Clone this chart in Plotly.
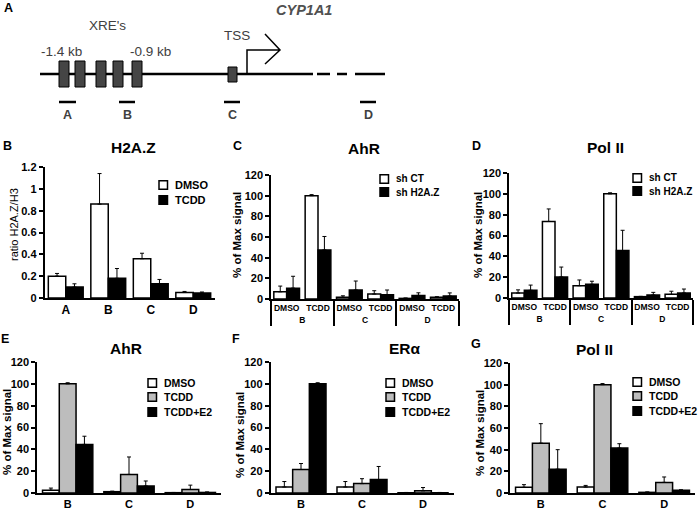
import plotly.graph_objects as go

W, H = 700, 509
FONT = "Liberation Sans, Arial, sans-serif"


def px(x):
    return x / W


def py(y):
    return 1 - y / H


# ---------------- data ----------------
# Panel A: promoter schematic (schematic units along the CYP1A1 promoter)
xre_centers = [64, 80, 101, 118, 137]
proximal_box_center = 232.5
promoter_span = [40, 313]
gap_dashes = [[317, 330], [337, 347], [355, 385]]
amplicon_names = ["A", "B", "C", "D"]
amplicon_spans = [[59, 76], [119, 135], [224, 240], [360, 376]]
tss_pos = 247

# Panel B: H2A.Z (ratio H2A.Z/H3)
h2az_regions = ["A", "B", "C", "D"]
h2az_dmso = [0.20, 0.86, 0.36, 0.05]
h2az_dmso_err = [0.025, 0.28, 0.05, 0.01]
h2az_tcdd = [0.10, 0.18, 0.13, 0.045]
h2az_tcdd_err = [0.03, 0.09, 0.04, 0.01]

# Panels C, D: shRNA experiments (% of max signal)
sh_regions = ["B", "B", "C", "C", "D", "D"]
sh_treatments = ["DMSO", "TCDD", "DMSO", "TCDD", "DMSO", "TCDD"]
sh_names = ["sh CT", "sh H2A.Z"]
ahr_shct = [7, 100, 1.6, 4.8, 0.6, 1.6]
ahr_shct_err = [5.5, 1, 1.5, 3.2, 0.4, 0.6]
ahr_shh2az = [10.5, 47.5, 8.7, 4.2, 3.5, 2.9]
ahr_shh2az_err = [11.5, 13, 8.7, 4.5, 2.5, 3]
pol_shct = [4.8, 73.5, 11.8, 100, 1.3, 3.5]
pol_shct_err = [3, 12, 5.5, 1, 0.3, 3]
pol_shh2az = [7.4, 20.2, 13.1, 45.5, 2.9, 4.8]
pol_shh2az_err = [5, 9.5, 3, 19.5, 2.5, 3.8]

# Panels E, F, G: E2 experiments (% of max signal)
e2_regions = ["B", "C", "D"]
e2_names = ["DMSO", "TCDD", "TCDD+E2"]
ahrE_dmso = [2.5, 1.2, 0.3]
ahrE_dmso_err = [2, 0.5, 0.2]
ahrE_tcdd = [100, 17, 3.2]
ahrE_tcdd_err = [1, 16, 4]
ahrE_e2 = [44.5, 6.4, 0.5]
ahrE_e2_err = [7.5, 4.6, 0.5]
era_dmso = [5.5, 5.5, 0.3]
era_dmso_err = [5, 5, 0.2]
era_tcdd = [21.5, 8.6, 2]
era_tcdd_err = [5.5, 4.5, 3]
era_e2 = [100, 12.3, 0.3]
era_e2_err = [1, 12, 0.2]
polG_dmso = [5.2, 5.5, 0.6]
polG_dmso_err = [2.5, 1.5, 0.4]
polG_tcdd = [46, 100, 9.8]
polG_tcdd_err = [18, 1, 5]
polG_e2 = [22, 41.5, 2.5]
polG_e2_err = [18, 4, 0.5]

WHITE, GRAY, BLACK = "white", "#bdbdbd", "black"

fig = go.Figure()


def bar(x, y, err, color, ax):
    fig.add_trace(go.Bar(
        x=x, y=y, xaxis="x" + ax, yaxis="y" + ax, showlegend=False,
        marker=dict(color=color, line=dict(color="black", width=1.5)),
        error_y=dict(type="data", array=err, arrayminus=[0] * len(err),
                     symmetric=False, color="black", thickness=1, width=2),
    ))


# Panel B
bar(h2az_regions, h2az_dmso, h2az_dmso_err, WHITE, "2")
bar(h2az_regions, h2az_tcdd, h2az_tcdd_err, BLACK, "2")
# Panel C
bar([sh_regions, sh_treatments], ahr_shct, ahr_shct_err, WHITE, "3")
bar([sh_regions, sh_treatments], ahr_shh2az, ahr_shh2az_err, BLACK, "3")
# Panel D
bar([sh_regions, sh_treatments], pol_shct, pol_shct_err, WHITE, "4")
bar([sh_regions, sh_treatments], pol_shh2az, pol_shh2az_err, BLACK, "4")
# Panel E
bar(e2_regions, ahrE_dmso, ahrE_dmso_err, WHITE, "5")
bar(e2_regions, ahrE_tcdd, ahrE_tcdd_err, GRAY, "5")
bar(e2_regions, ahrE_e2, ahrE_e2_err, BLACK, "5")
# Panel F
bar(e2_regions, era_dmso, era_dmso_err, WHITE, "6")
bar(e2_regions, era_tcdd, era_tcdd_err, GRAY, "6")
bar(e2_regions, era_e2, era_e2_err, BLACK, "6")
# Panel G
bar(e2_regions, polG_dmso, polG_dmso_err, WHITE, "7")
bar(e2_regions, polG_tcdd, polG_tcdd_err, GRAY, "7")
bar(e2_regions, polG_e2, polG_e2_err, BLACK, "7")

# invisible trace to create the schematic axis
fig.add_trace(go.Scatter(x=[promoter_span[0]], y=[0], xaxis="x", yaxis="y",
                         mode="markers", marker=dict(opacity=0), showlegend=False,
                         hoverinfo="skip"))

layout = dict(
    width=W, height=H, margin=dict(l=0, r=0, t=0, b=0),
    paper_bgcolor="white", plot_bgcolor="white",
    barmode="group", bargap=0.18, bargroupgap=0,
    font=dict(family=FONT, color="black"),
    showlegend=False,
    xaxis=dict(domain=[0, 1], range=[0, 700], visible=False, anchor="y"),
    yaxis=dict(domain=[py(125), 1], range=[125, 0], visible=False, anchor="x"),
)

# panel axis geometry: (xleft, xright, ytop, ybottom) in pixels
geom = {
    "2": (44.5, 214.5, 167, 298, [0, 1.2], 0.2),
    "3": (271, 459, 175, 299, [0, 120], 20),
    "4": (509, 693, 173, 298, [0, 120], 20),
    "5": (37, 221, 362, 493, [0, 120], 20),
    "6": (270.5, 453.5, 362, 493, [0, 120], 20),
    "7": (510, 695, 363, 493, [0, 120], 20),
}
for k, (xl, xr, yt, yb, rng, dt) in geom.items():
    xa = dict(domain=[px(xl), px(xr)], anchor="y" + k, showline=True,
              linecolor="black", linewidth=2, ticks="", showgrid=False,
              zeroline=False, tickfont=dict(size=12 if k == "2" else 11, weight="bold"),
              automargin=False, tickangle=0)
    if k in ("3", "4"):
        xa.update(type="multicategory", showdividers=True, dividercolor="black",
                  dividerwidth=1.5, tickfont=dict(size=8.5, weight="bold"))
    ya = dict(domain=[py(yb), py(yt)], anchor="x" + k, range=rng, dtick=dt,
              showline=True, linecolor="black", linewidth=1.5, ticks="outside",
              ticklen=4, tickwidth=1.5, tickcolor="black", showgrid=False,
              zeroline=False, tickfont=dict(size=11, weight="bold"), automargin=False)
    layout["xaxis" + k] = xa
    layout["yaxis" + k] = ya

shapes = []
annotations = []

# ---------- Panel A schematic ----------
LINE_Y = 74
shapes.append(dict(type="line", xref="x", yref="y", x0=promoter_span[0], x1=promoter_span[1],
                   y0=LINE_Y, y1=LINE_Y, line=dict(color="black", width=2.5)))
for a, b in gap_dashes:
    shapes.append(dict(type="line", xref="x", yref="y", x0=a, x1=b, y0=LINE_Y, y1=LINE_Y,
                       line=dict(color="black", width=2.5)))
for c in xre_centers:
    shapes.append(dict(type="rect", xref="x", yref="y", x0=c - 5, x1=c + 5, y0=61, y1=87,
                       fillcolor="#454545", line=dict(color="black", width=1)))
shapes.append(dict(type="rect", xref="x", yref="y", x0=proximal_box_center - 4.5,
                   x1=proximal_box_center + 4.5, y0=67, y1=82,
                   fillcolor="#454545", line=dict(color="black", width=1)))
# TSS arrow
shapes.append(dict(type="path", xref="x", yref="y",
                   path=f"M{tss_pos},{LINE_Y} L{tss_pos},50 L{tss_pos + 33},50 "
                        f"M{tss_pos + 18},34 L{tss_pos + 33},50 L{tss_pos + 18},64",
                   line=dict(color="black", width=1.5)))
for name, (a, b) in zip(amplicon_names, amplicon_spans):
    shapes.append(dict(type="line", xref="x", yref="y", x0=a, x1=b, y0=102, y1=102,
                       line=dict(color="black", width=2.5)))
    annotations.append(dict(x=(a + b) / 2, y=115, xref="x", yref="y", text=name,
                            showarrow=False, font=dict(size=12.5, weight="bold", color="#404040")))

diag_text = [("XRE's", 107, 25), ("-1.4 kb", 61, 51), ("-0.9 kb", 150, 51), ("TSS", 237, 35)]
for t, x, y in diag_text:
    annotations.append(dict(x=x, y=y, xref="x", yref="y", text=t, showarrow=False,
                            font=dict(size=13.5, color="#404040")))
annotations.append(dict(x=304, y=10, xref="x", yref="y", text="<i>CYP1A1</i>", showarrow=False,
                        font=dict(size=14.5, weight="bold", color="#505050")))


def ann(text, x, y, size, bold=True, angle=0, anchor="center"):
    d = dict(x=px(x), y=py(y), xref="paper", yref="paper", text=text, showarrow=False,
             xanchor=anchor, yanchor="middle", textangle=angle,
             font=dict(size=size, weight="bold" if bold else "normal", color="black"))
    annotations.append(d)


# panel letters
for t, x, y in [("A", 8, 8), ("B", 7, 146), ("C", 237, 146), ("D", 476, 146),
                ("E", 5, 339), ("F", 236, 339), ("G", 476, 344)]:
    ann(t, x, y, 12.5)

# titles
for t, x, y in [("H2A.Z", 133, 147), ("AhR", 364, 148), ("Pol II", 605, 147),
                ("AhR", 126, 348), ("ERα", 405, 348), ("Pol II", 594, 349)]:
    ann(t, x, y, 15.5)

# y-axis titles
ann("ratio H2A.Z/H3", 14, 225, 11, bold=False, angle=-90)
for x, y in [(237, 235), (478, 235), (7, 432), (240, 435), (480, 433)]:
    ann("% of Max signal", x, y, 11.5, angle=-90)


def legend(xsq, ys, names, colors, size):
    for y, n, c in zip(ys, names, colors):
        shapes.append(dict(type="rect", xref="paper", yref="paper",
                           x0=px(xsq), x1=px(xsq + 8.5), y0=py(y + 4.25), y1=py(y - 4.25),
                           fillcolor=c, line=dict(color="black", width=1.5)))
        ann(n, xsq + 14, y, size, anchor="left")


legend(159, [185, 200], ["DMSO", "TCDD"], [WHITE, BLACK], 11)
legend(380, [179, 192], sh_names, [WHITE, BLACK], 10)
legend(633, [178, 191], sh_names, [WHITE, BLACK], 10)
legend(148, [383, 397, 412], e2_names, [WHITE, GRAY, BLACK], 10.5)
legend(386, [383, 397, 412], e2_names, [WHITE, GRAY, BLACK], 10.5)
legend(633, [382, 396, 411], e2_names, [WHITE, GRAY, BLACK], 10.5)

layout["shapes"] = shapes
layout["annotations"] = annotations
fig.update_layout(**layout)
fig.write_html("out.html", config={"displayModeBar": False},
               post_script="document.body.style.margin='0';document.body.style.overflow='hidden';")
